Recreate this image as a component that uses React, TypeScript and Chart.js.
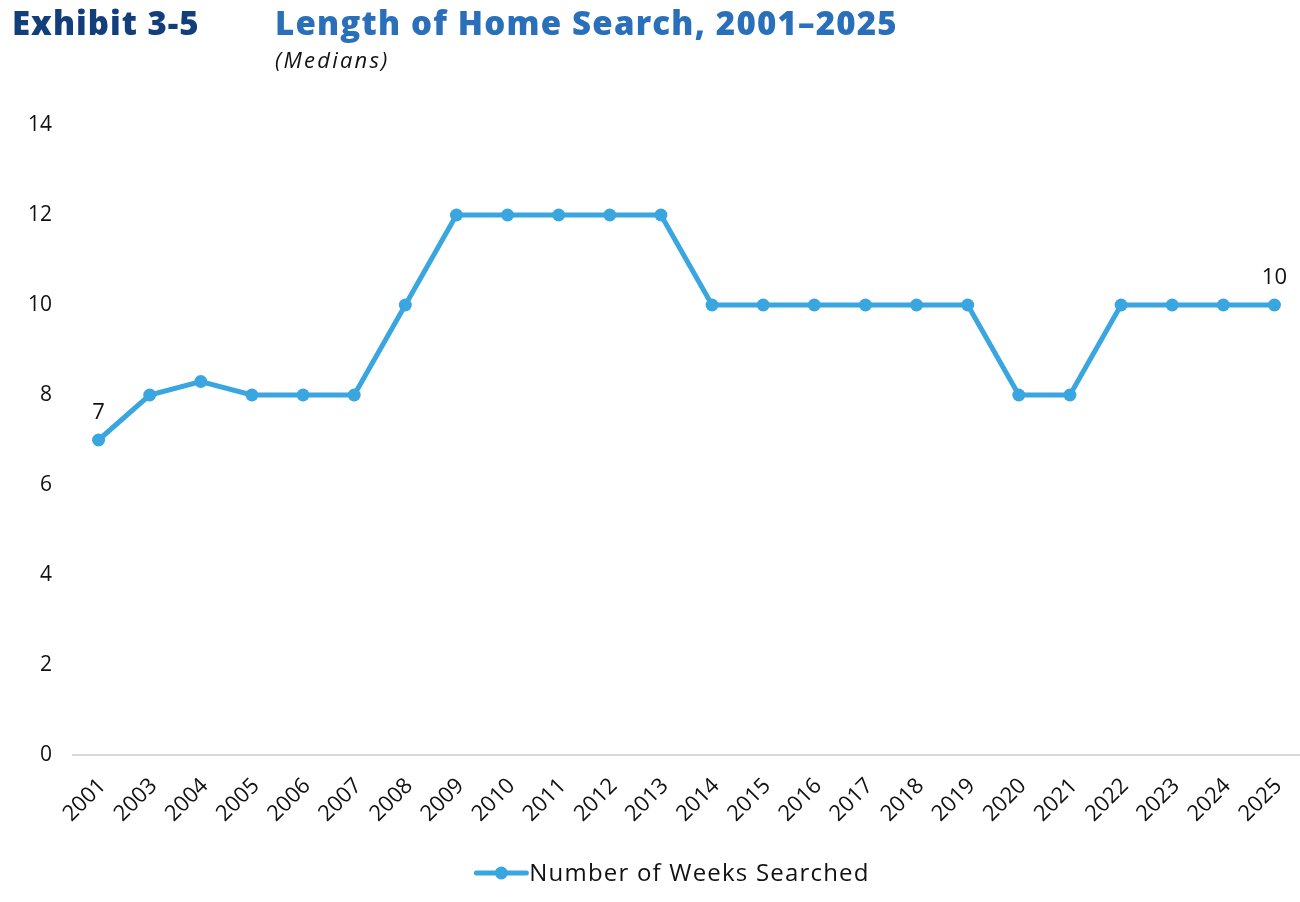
import React, { useEffect, useRef } from "react";
import { Chart, registerables } from "chart.js";

Chart.register(...registerables);

const years = ["2001","2003","2004","2005","2006","2007","2008","2009","2010","2011","2012","2013","2014","2015","2016","2017","2018","2019","2020","2021","2022","2023","2024","2025"];
const weeks = [7, 8, 8.3, 8, 8, 8, 10, 12, 12, 12, 12, 12, 10, 10, 10, 10, 10, 10, 8, 8, 10, 10, 10, 10];
const labeledIdx = [0, 23];
const seriesLabel = "Number of Weeks Searched";
const yMax = 14;
const yStep = 2;

const FONT = "'Open Sans', 'Noto Sans', sans-serif";
const LINE = "#3aa6df";

const extrasPlugin = {
  id: "extras",
  afterDatasetsDraw(chart: any) {
    const ctx = chart.ctx;
    const meta = chart.getDatasetMeta(0);
    ctx.save();
    ctx.fillStyle = "#111";
    ctx.font = `22px ${FONT}`;
    ctx.textAlign = "center";
    ctx.textBaseline = "bottom";
    labeledIdx.forEach((i) => {
      const p = meta.data[i];
      ctx.fillText(String(weeks[i]), p.x, p.y - 16);
    });
    // legend
    const ds = chart.data.datasets[0];
    ctx.font = `24px ${FONT}`;
    try { (ctx as any).letterSpacing = "1.2px"; } catch (e) {}
    const tw = ctx.measureText(ds.label).width;
    const lineW = 50;
    const total = lineW + 3 + tw;
    const x0 = (chart.width - total) / 2 + 23;
    const y = 873;
    ctx.strokeStyle = LINE;
    ctx.lineWidth = 5;
    ctx.lineCap = "round";
    ctx.beginPath();
    ctx.moveTo(x0, y);
    ctx.lineTo(x0 + lineW, y);
    ctx.stroke();
    ctx.fillStyle = LINE;
    ctx.beginPath();
    ctx.arc(x0 + lineW / 2, y, 6.5, 0, Math.PI * 2);
    ctx.fill();
    ctx.fillStyle = "#111";
    ctx.textAlign = "left";
    ctx.textBaseline = "middle";
    ctx.fillText(ds.label, x0 + lineW + 3, y + 1);
    ctx.restore();
  },
};

export default function App() {
  const ref = useRef<HTMLCanvasElement | null>(null);
  useEffect(() => {
    if (!ref.current) return;
    const chart = new Chart(ref.current, {
      type: "line",
      data: {
        labels: years,
        datasets: [
          {
            label: seriesLabel,
            data: weeks,
            borderColor: LINE,
            backgroundColor: LINE,
            borderWidth: 5,
            pointRadius: 6.5,
            pointHoverRadius: 6.5,
            pointBackgroundColor: LINE,
            pointBorderWidth: 0,
            tension: 0,
          },
        ],
      },
      plugins: [extrasPlugin],
      options: {
        animation: false,
        responsive: false,
        maintainAspectRatio: false,
        layout: { autoPadding: false, padding: { top: 125, left: 0, right: 0, bottom: 77 } },
        plugins: {
          legend: { display: false },
          title: { display: false },
          tooltip: { enabled: false },
        },
        scales: {
          x: {
            offset: true,
            grid: { display: true, color: "transparent", drawTicks: false },
            border: { display: true, color: "#d9d9d9", width: 2 },
            ticks: {
              color: "#111",
              font: { family: FONT, size: 22 },
              minRotation: 45,
              maxRotation: 45,
              autoSkip: false,
              padding: 18,
              labelOffset: 4,
            },
            afterFit: (s: any) => {
              s.height = 70;
              s.paddingLeft = 0;
              s.paddingRight = 0;
            },
          },
          y: {
            min: 0,
            max: yMax,
            grid: { display: false, drawTicks: false },
            border: { display: false },
            ticks: {
              stepSize: yStep,
              color: "#111",
              font: { family: FONT, size: 21 },
              padding: 21,
            },
            afterFit: (s: any) => {
              s.width = 73;
            },
          },
        },
      },
    });
    return () => chart.destroy();
  }, []);

  return (
    <div style={{ position: "absolute", left: 0, top: 0, width: 1300, height: 902, background: "#fff", fontFamily: FONT }}>
      <canvas ref={ref} width={1300} height={902} style={{ position: "absolute", left: 0, top: 0 }} />
      <div style={{ position: "absolute", left: 12, top: 0, fontSize: 33, fontWeight: 800, color: "#123f7c", letterSpacing: 1.0, whiteSpace: "nowrap" }}>
        Exhibit 3-5
      </div>
      <div style={{ position: "absolute", left: 275, top: 0, fontSize: 33, fontWeight: 800, color: "#2a6fba", letterSpacing: 1.2, whiteSpace: "nowrap" }}>
        Length of Home Search, 2001–2025
      </div>
      <div style={{ position: "absolute", left: 275, top: 44, fontSize: 22, fontStyle: "italic", color: "#111", letterSpacing: 2.2, whiteSpace: "nowrap" }}>
        (Medians)
      </div>
    </div>
  );
}
